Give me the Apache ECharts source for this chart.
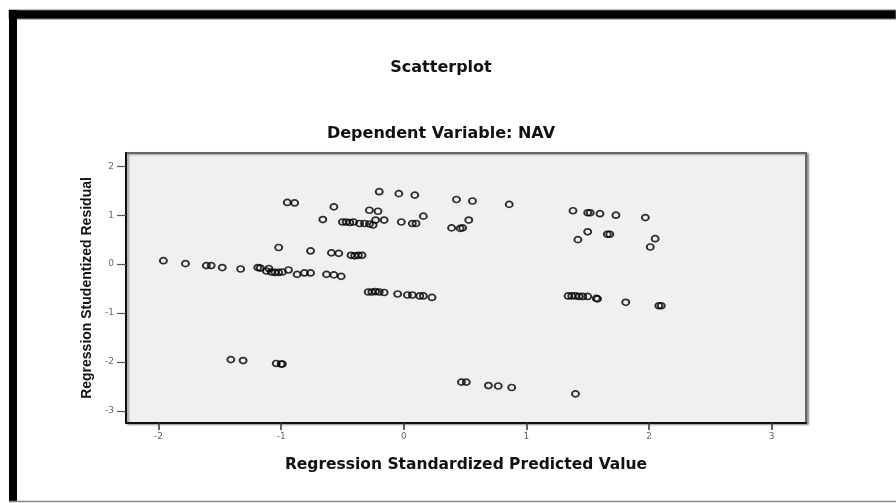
<!DOCTYPE html>
<html>
<head>
<meta charset="utf-8">
<script src="https://cdn.jsdelivr.net/npm/echarts@6/dist/echarts.min.js"></script>
<style>html,body{margin:0;padding:0;background:#fff;}#c{width:896px;height:503px;}</style>
</head>
<body>
<div id="c"></div>
<script>
// Regression Standardized Predicted Value (x) / Regression Studentized Residual (y)
const predicted = [
  -1.96, -1.78, -1.61, -1.57, -1.48, -1.33, -1.19, -1.17, -1.10,
  -1.12, -1.08, -1.05, -1.02, -0.99,
  -1.02, -0.95, -0.89, -0.94, -0.87, -0.81, -0.76, -0.76, -0.66,
  -0.63, -0.59, -0.53, -0.57, -0.57, -0.51,
  -0.43, -0.40, -0.37, -0.34,
  -0.50, -0.47, -0.44, -0.41,
  -0.36, -0.32, -0.28,
  -0.28, -0.21, -0.23, -0.16, -0.25, -0.20, -0.04, 0.09,
  -0.02, 0.07, 0.10, 0.16, 0.43, 0.56, 0.39, 0.46, 0.48, 0.53, 0.86,
  -0.29, -0.26, -0.23, -0.20, -0.16,
  -0.05, 0.03, 0.07, 0.13, 0.16, 0.23,
  0.47, 0.51, 0.69, 0.77, 0.88,
  -1.41, -1.31, -1.04, -1.00, -0.99,
  1.38, 1.50, 1.52, 1.60, 1.73, 1.97,
  1.50, 1.42, 1.66, 1.68, 2.05, 2.01,
  1.34, 1.37, 1.40, 1.43, 1.46, 1.50,
  1.58, 1.57, 1.81, 2.08, 2.10,
  1.40
];
const residual = [
  0.07, 0.01, -0.03, -0.03, -0.07, -0.10, -0.07, -0.08, -0.09,
  -0.14, -0.16, -0.17, -0.17, -0.16,
  0.34, 1.26, 1.25, -0.12, -0.21, -0.18, -0.18, 0.27, 0.91,
  -0.21, 0.23, 0.22, 1.17, -0.22, -0.25,
  0.18, 0.17, 0.18, 0.18,
  0.86, 0.86, 0.85, 0.86,
  0.83, 0.83, 0.82,
  1.10, 1.08, 0.90, 0.90, 0.80, 1.48, 1.44, 1.41,
  0.86, 0.83, 0.83, 0.98, 1.32, 1.29, 0.74, 0.73, 0.74, 0.90, 1.22,
  -0.57, -0.57, -0.56, -0.57, -0.58,
  -0.61, -0.63, -0.63, -0.65, -0.65, -0.68,
  -2.41, -2.41, -2.48, -2.49, -2.52,
  -1.95, -1.97, -2.03, -2.04, -2.04,
  1.09, 1.05, 1.05, 1.03, 1.00, 0.95,
  0.66, 0.50, 0.61, 0.61, 0.52, 0.35,
  -0.65, -0.65, -0.65, -0.66, -0.66, -0.66,
  -0.71, -0.70, -0.78, -0.85, -0.85,
  -2.65
];
const xTicks = [-2, -1, 0, 1, 2, 3];
const yTicks = [-3, -2, -1, 0, 1, 2];
const mainTitle = 'Scatterplot';
const subTitle = 'Dependent Variable: NAV';
const xName = 'Regression Standardized Predicted Value';
const yName = 'Regression Studentized Residual';

const points = predicted.map((x, i) => [x, residual[i]]);

const chart = echarts.init(document.getElementById('c'), null, {renderer: 'canvas'});
const titleFont = {fontFamily: 'DejaVu Sans', fontWeight: 'bold', fontSize: 16, color: '#111'};
chart.setOption({
  animation: false,
  backgroundColor: '#fff',
  title: [
    {text: mainTitle, left: 436, top: 55, textAlign: 'center', textStyle: titleFont},
    {text: subTitle, left: 436, top: 121, textAlign: 'center', textStyle: titleFont}
  ],
  grid: {
    left: 126, right: 90, top: 153, bottom: 80,
    show: true, backgroundColor: '#f0f0f0', borderColor: '#666', borderWidth: 2,
    shadowColor: 'rgba(0,0,0,0.35)', shadowBlur: 2, shadowOffsetX: 2, shadowOffsetY: 1
  },
  xAxis: {
    type: 'value', min: -2.265, max: 3.28,
    name: xName, nameLocation: 'middle', nameGap: 34,
    nameTextStyle: {fontFamily: 'DejaVu Sans', fontWeight: 'bold', fontSize: 15.5, color: '#111'},
    axisLine: {show: true, onZero: false, lineStyle: {color: '#111', width: 2}},
    axisTick: {show: true, length: 7, customValues: xTicks, lineStyle: {color: '#333', width: 1.5}},
    axisLabel: {customValues: xTicks, margin: 9, fontFamily: 'DejaVu Sans', fontSize: 9, color: '#666'},
    splitLine: {show: false}
  },
  yAxis: {
    type: 'value', min: -3.245, max: 2.27,
    name: yName, nameLocation: 'middle', nameGap: 29, nameRotate: 90,
    nameTextStyle: {fontFamily: 'Liberation Sans', fontWeight: 'bold', fontSize: 14, color: '#111'},
    axisLine: {show: true, onZero: false, lineStyle: {color: '#111', width: 2}},
    axisTick: {show: true, length: 9, customValues: yTicks, lineStyle: {color: '#555', width: 1.2}},
    axisLabel: {customValues: yTicks, margin: 12, fontFamily: 'DejaVu Sans', fontSize: 9, color: '#666'},
    splitLine: {show: false}
  },
  series: [{
    type: 'scatter',
    data: points,
    symbol: 'circle',
    symbolSize: [7, 6],
    itemStyle: {color: 'rgba(0,0,0,0)', borderColor: '#000', borderWidth: 1.8}
  }],
  graphic: [
    {type: 'rect', shape: {x: 9, y: 10, width: 887, height: 9}, style: {fill: '#000', stroke: '#777', lineWidth: 1}, silent: true},
    {type: 'rect', shape: {x: 9, y: 10, width: 8, height: 492}, style: {fill: '#000'}, silent: true},
    {type: 'line', shape: {x1: 9, y1: 501.5, x2: 896, y2: 501.5}, style: {stroke: '#888', lineWidth: 1.5}, silent: true}
  ]
});
</script>
</body>
</html>
